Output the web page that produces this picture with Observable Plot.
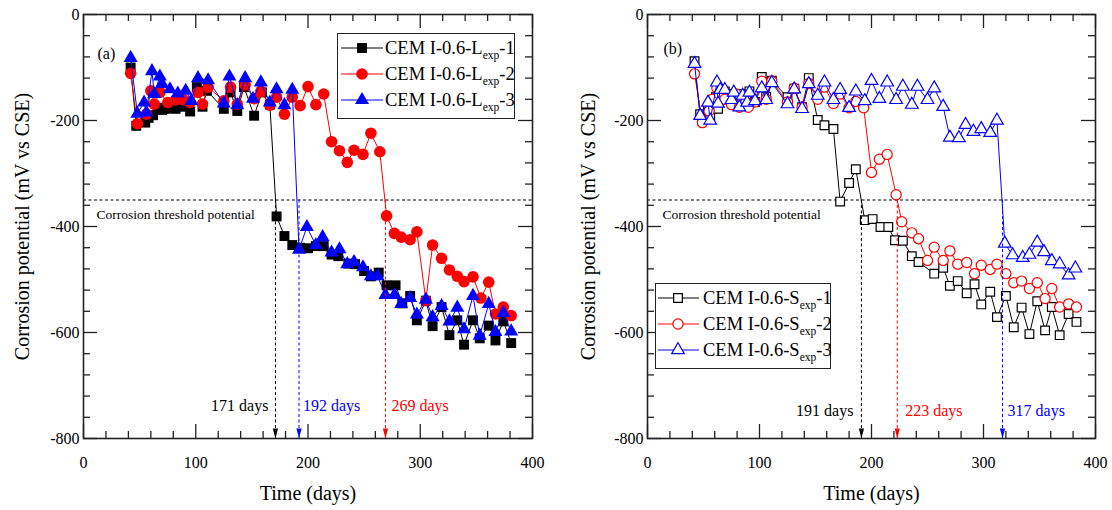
<!DOCTYPE html>
<html><head><meta charset="utf-8">
<script src="https://cdn.jsdelivr.net/npm/d3@7"></script>
<script src="https://cdn.jsdelivr.net/npm/@observablehq/plot@0.6"></script>
<style>
body{margin:0;background:#fff;font-family:"Liberation Serif","Times New Roman",serif;}
#wrap{position:relative;width:1112px;height:510px;overflow:hidden;}
.panel{position:absolute;top:0;}
.legend{position:absolute;border:1.3px solid #222;background:#fff;font-size:18.5px;box-sizing:border-box;padding-top:1px;}
.row{position:relative;height:26px;white-space:nowrap;}
.row svg{position:absolute;left:0;top:0;}
.row span{position:absolute;left:47px;top:1px;line-height:24px;}
.row sub{font-size:11.5px;vertical-align:-5px;line-height:0;}
</style></head><body><div id="wrap"></div><script>
// ---------- axis ticks ----------
const xMajor = [0, 100, 200, 300, 400];
const xMinor = [20, 40, 60, 80, 120, 140, 160, 180, 220, 240, 260, 280, 320, 340, 360, 380];
const yMajor = [0, -200, -400, -600, -800];
const yMinor = [-40, -80, -120, -160, -240, -280, -320, -360, -440, -480, -520, -560, -640, -680, -720, -760];
const threshold = -350;
const thresholdText = "Corrosion threshold potential";
const yTitle = "Corrosion potential (mV vs CSE)";
const xTitle = "Time (days)";

// ---------- panel (a): CEM I-0.6-Lexp ----------
const aDays1 = [42, 47, 55, 58, 62, 66, 70, 73, 77, 82, 88, 95, 101, 106, 110, 125, 131, 137, 143, 152, 159, 166, 172, 179, 186, 193, 200, 207, 214, 221, 227, 236, 242, 250, 256, 263, 270, 278, 284, 291, 297, 305, 311, 319, 326, 333, 339, 347, 353, 361, 367, 374, 381];
const aVals1 = [-100, -210, -204, -195, -190, -176, -180, -178, -176, -178, -174, -183, -137, -174, -144, -178, -147, -182, -137, -191, -147, -170, -381, -418, -435, -440, -441, -437, -437, -453, -456, -470, -471, -484, -494, -487, -511, -511, -545, -531, -577, -540, -588, -552, -605, -577, -623, -577, -611, -587, -615, -579, -620];
const aDays2 = [42, 48, 56, 60, 63, 68, 75, 82, 89, 95, 102, 106, 111, 125, 131, 137, 144, 152, 158, 166, 172, 179, 186, 193, 200, 207, 214, 221, 228, 235, 241, 249, 256, 264, 270, 277, 283, 291, 297, 305, 311, 319, 326, 333, 339, 347, 354, 361, 367, 374, 381];
const aVals2 = [-111, -206, -188, -144, -169, -147, -166, -161, -161, -166, -147, -169, -137, -163, -137, -169, -133, -159, -145, -171, -156, -188, -156, -172, -136, -170, -150, -240, -257, -279, -256, -264, -224, -259, -380, -413, -420, -425, -410, -540, -435, -460, -482, -494, -504, -495, -535, -505, -565, -552, -568];
const aDays3 = [42, 48, 54, 56, 61, 63, 68, 70, 77, 84, 91, 96, 102, 111, 125, 130, 137, 144, 151, 158, 166, 172, 179, 186, 192, 199, 207, 213, 221, 228, 235, 241, 249, 256, 262, 269, 277, 283, 291, 297, 305, 311, 319, 326, 333, 339, 347, 353, 361, 367, 374, 381];
const aVals3 = [-82, -187, -166, -185, -107, -150, -117, -131, -141, -149, -144, -163, -120, -124, -168, -117, -171, -120, -159, -128, -166, -141, -171, -142, -444, -401, -435, -420, -449, -443, -471, -467, -477, -494, -494, -529, -529, -546, -535, -566, -538, -571, -550, -579, -553, -594, -531, -606, -546, -599, -563, -598];
const aLegendBase = "CEM I-0.6-L";
const aArrowDays = [171, 192, 269];
const aArrowLabels = ["171 days", "192 days", "269 days"];

// ---------- panel (b): CEM I-0.6-Sexp ----------
const bDays1 = [42, 47, 54, 56, 61, 63, 65, 69, 75, 77, 82, 85, 89, 91, 96, 102, 106, 111, 125, 131, 138, 144, 152, 158, 166, 172, 180, 186, 194, 201, 208, 215, 221, 228, 236, 242, 256, 264, 270, 277, 285, 292, 298, 306, 312, 320, 327, 334, 341, 348, 355, 361, 368, 376, 383];
const bVals1 = [-88, -188, -180, -191, -156, -178, -150, -145, -160, -150, -165, -150, -160, -145, -165, -118, -155, -125, -156, -140, -175, -120, -199, -209, -216, -353, -318, -292, -388, -386, -401, -401, -426, -427, -456, -467, -489, -478, -512, -503, -526, -509, -547, -523, -571, -531, -590, -553, -603, -541, -596, -552, -605, -565, -580];
const bDays2 = [42, 49, 55, 58, 62, 64, 69, 75, 79, 82, 87, 90, 96, 102, 106, 111, 125, 131, 138, 144, 152, 158, 166, 172, 180, 186, 193, 200, 207, 214, 222, 227, 236, 242, 250, 256, 264, 270, 277, 285, 292, 298, 306, 312, 320, 327, 334, 341, 348, 355, 361, 368, 376, 383];
const bVals2 = [-112, -204, -182, -160, -139, -150, -160, -170, -150, -175, -165, -175, -165, -126, -160, -126, -165, -139, -175, -130, -160, -137, -168, -150, -176, -164, -176, -298, -273, -264, -340, -391, -412, -423, -464, -439, -464, -446, -471, -468, -489, -473, -481, -471, -489, -506, -503, -517, -506, -536, -517, -552, -546, -552];
const bDays3 = [42, 47, 54, 56, 62, 63, 65, 69, 75, 77, 82, 85, 89, 91, 96, 102, 106, 111, 125, 131, 138, 144, 152, 158, 166, 172, 180, 186, 194, 200, 207, 214, 222, 228, 236, 241, 250, 256, 264, 270, 278, 284, 291, 298, 306, 312, 319, 326, 335, 341, 348, 354, 361, 368, 376, 382];
const bVals3 = [-93, -191, -166, -200, -128, -168, -142, -142, -161, -147, -175, -153, -166, -147, -163, -139, -161, -129, -169, -141, -178, -131, -153, -128, -161, -142, -176, -145, -163, -125, -159, -128, -161, -136, -170, -136, -161, -139, -174, -232, -233, -208, -221, -216, -223, -200, -432, -454, -459, -453, -430, -448, -465, -471, -492, -479];
const bLegendBase = "CEM I-0.6-S";
const bArrowDays = [191, 223, 317];
const bArrowLabels = ["191 days", "223 days", "317 days"];

const legendSub = "exp";
const legendSuffix = ["-1", "-2", "-3"];
const colors = ["#000000", "#ff0000", "#0000ff"];
const symbols = ["square", "circle", "triangle"];

const rows = (days, vals) => days.map((d, i) => ({day: d, mv: vals[i]}));

// narrow filled arrowhead, tip at the anchor point
const arrowHead = {draw(ctx) { ctx.moveTo(0, 0); ctx.lineTo(-2.6, -10); ctx.lineTo(2.6, -10); ctx.closePath(); }};

function makePanel(opts) {
  const W = 556, H = 510, mt = 14, mb = 72;
  const {mLeft, mRight, series, open, arrowDays, arrowLabels, arrowColors, arrowDx, labelDy, tag, tagDx, tagDy, thrDx, yTitleDx, radii} = opts;
  const iw = W - mLeft - mRight, ih = H - mt - mb;
  const tickStyle = {stroke: "#222", strokeWidth: 1.3};
  const marks = [];
  // threshold
  marks.push(Plot.ruleY([threshold], {stroke: "#000", strokeWidth: 1, strokeDasharray: "3,2.5"}));
  marks.push(Plot.text([thresholdText], {frameAnchor: "left", y: threshold, dx: thrDx, dy: 15, textAnchor: "start", fontSize: 13.5, fill: "#000"}));
  // series
  series.forEach((s, k) => {
    const data = rows(s.days, s.vals);
    marks.push(Plot.line(data, {x: "day", y: "mv", stroke: colors[k], strokeWidth: 1}));
    marks.push(Plot.dot(data, open
      ? {x: "day", y: "mv", symbol: symbols[k], r: radii[k], fill: "white", stroke: colors[k], strokeWidth: 1.2}
      : {x: "day", y: "mv", symbol: symbols[k], r: radii[k], fill: colors[k], stroke: "none"}));
  });
  // arrows
  arrowDays.forEach((d, k) => {
    const c = arrowColors[k];
    marks.push(Plot.ruleX([d], {x: v => v, y1: threshold, y2: -800, stroke: c, strokeWidth: 1, strokeDasharray: "3,2.5"}));
    marks.push(Plot.dot([d], {x: v => v, y: -800, symbol: arrowHead, fill: c, stroke: "none"}));
    marks.push(Plot.text([arrowLabels[k]], {x: () => d, frameAnchor: "bottom", dy: labelDy, dx: arrowDx[k], textAnchor: arrowDx[k] < 0 ? "end" : "start", fill: c, fontSize: 16}));
  });
  // ticks inside on all four sides
  marks.push(Plot.ruleX(xMajor, {x: d => d, insetTop: ih - 14, ...tickStyle}));
  marks.push(Plot.ruleX(xMajor, {x: d => d, insetBottom: ih - 14, ...tickStyle}));
  marks.push(Plot.ruleX(xMinor, {x: d => d, insetTop: ih - 7, ...tickStyle}));
  marks.push(Plot.ruleX(xMinor, {x: d => d, insetBottom: ih - 7, ...tickStyle}));
  marks.push(Plot.ruleY(yMajor, {y: d => d, insetRight: iw - 14, ...tickStyle}));
  marks.push(Plot.ruleY(yMajor, {y: d => d, insetLeft: iw - 14, ...tickStyle}));
  marks.push(Plot.ruleY(yMinor, {y: d => d, insetRight: iw - 7, ...tickStyle}));
  marks.push(Plot.ruleY(yMinor, {y: d => d, insetLeft: iw - 7, ...tickStyle}));
  marks.push(Plot.frame({stroke: "#222", strokeWidth: 1.6}));
  // tick labels
  marks.push(Plot.axisX({ticks: xMajor, tickSize: 0, tickPadding: 18, tickFormat: d => String(d), fontSize: 16, label: null}));
  marks.push(Plot.axisY({ticks: yMajor, tickSize: 0, tickPadding: 4, tickFormat: d => String(d), fontSize: 16, label: null}));
  // titles
  marks.push(Plot.text([yTitle], {frameAnchor: "left", dx: yTitleDx, rotate: -90, textAnchor: "middle", fontSize: 20, fill: "#000"}));
  marks.push(Plot.text([xTitle], {frameAnchor: "bottom", dy: 61, textAnchor: "middle", fontSize: 20, fill: "#000"}));
  marks.push(Plot.text([tag], {frameAnchor: "top-left", dx: tagDx, dy: tagDy, textAnchor: "start", fontSize: 16, fill: "#000"}));
  return Plot.plot({
    width: W, height: H, marginLeft: mLeft, marginRight: mRight, marginTop: mt, marginBottom: mb,
    x: {domain: [0, 400]}, y: {domain: [-800, 0]},
    style: {fontFamily: "'Liberation Serif','Times New Roman',serif", color: "#000", background: "white", overflow: "visible"},
    marks
  });
}

function makeLegend(parent, left, top, width, height, base, open, radii, lineX, markX) {
  const div = document.createElement("div");
  div.className = "legend";
  Object.assign(div.style, {left: left + "px", top: top + "px", width: width + "px", height: height + "px"});
  const typeOf = {square: d3.symbolSquare, circle: d3.symbolCircle, triangle: d3.symbolTriangle};
  legendSuffix.forEach((suf, k) => {
    const row = document.createElement("div");
    row.className = "row";
    const svg = d3.create("svg").attr("width", 46).attr("height", 26);
    svg.append("line").attr("x1", lineX[0]).attr("x2", lineX[1]).attr("y1", 13).attr("y2", 13).attr("stroke", colors[k]).attr("stroke-width", 1);
    svg.append("path").attr("d", d3.symbol(typeOf[symbols[k]], radii[k] * radii[k] * Math.PI)())
      .attr("transform", `translate(${markX},13)`)
      .attr("fill", open ? "white" : colors[k]).attr("stroke", open ? colors[k] : "none").attr("stroke-width", 1.2);
    row.appendChild(svg.node());
    const span = document.createElement("span");
    span.innerHTML = `${base}<sub>${legendSub}</sub>${suf}`;
    row.appendChild(span);
    div.appendChild(row);
  });
  parent.appendChild(div);
}

const wrap = document.getElementById("wrap");
const radiiA = [5.6, 5.8, 5.2];
const radiiB = [4.9, 5.1, 4.7];

const pa = makePanel({
  mLeft: 83, mRight: 24, open: false, radii: radiiA,
  series: [{days: aDays1, vals: aVals1}, {days: aDays2, vals: aVals2}, {days: aDays3, vals: aVals3}],
  arrowDays: aArrowDays, arrowLabels: aArrowLabels, arrowColors: [colors[0], colors[2], colors[1]],
  arrowDx: [-7, 4, 6], labelDy: -28, tag: "(a)", tagDx: 14, tagDy: 33, thrDx: 13, yTitleDx: -61
});
const da = document.createElement("div"); da.className = "panel"; da.style.left = "0px"; da.appendChild(pa); wrap.appendChild(da);

const pb = makePanel({
  mLeft: 91, mRight: 17, open: true, radii: radiiB,
  series: [{days: bDays1, vals: bVals1}, {days: bDays2, vals: bVals2}, {days: bDays3, vals: bVals3}],
  arrowDays: bArrowDays, arrowLabels: bArrowLabels, arrowColors: [colors[0], colors[1], colors[2]],
  arrowDx: [-8, 8, 5], labelDy: -23, tag: "(b)", tagDx: 16, tagDy: 28, thrDx: 15, yTitleDx: -59
});
const db = document.createElement("div"); db.className = "panel"; db.style.left = "556px"; db.appendChild(pb); wrap.appendChild(db);

makeLegend(wrap, 337, 33, 178, 86, aLegendBase, false, radiiA, [3, 45], 24);
makeLegend(wrap, 655, 283, 176, 86, bLegendBase, true, radiiB, [2, 43], 22);
</script></body></html>
